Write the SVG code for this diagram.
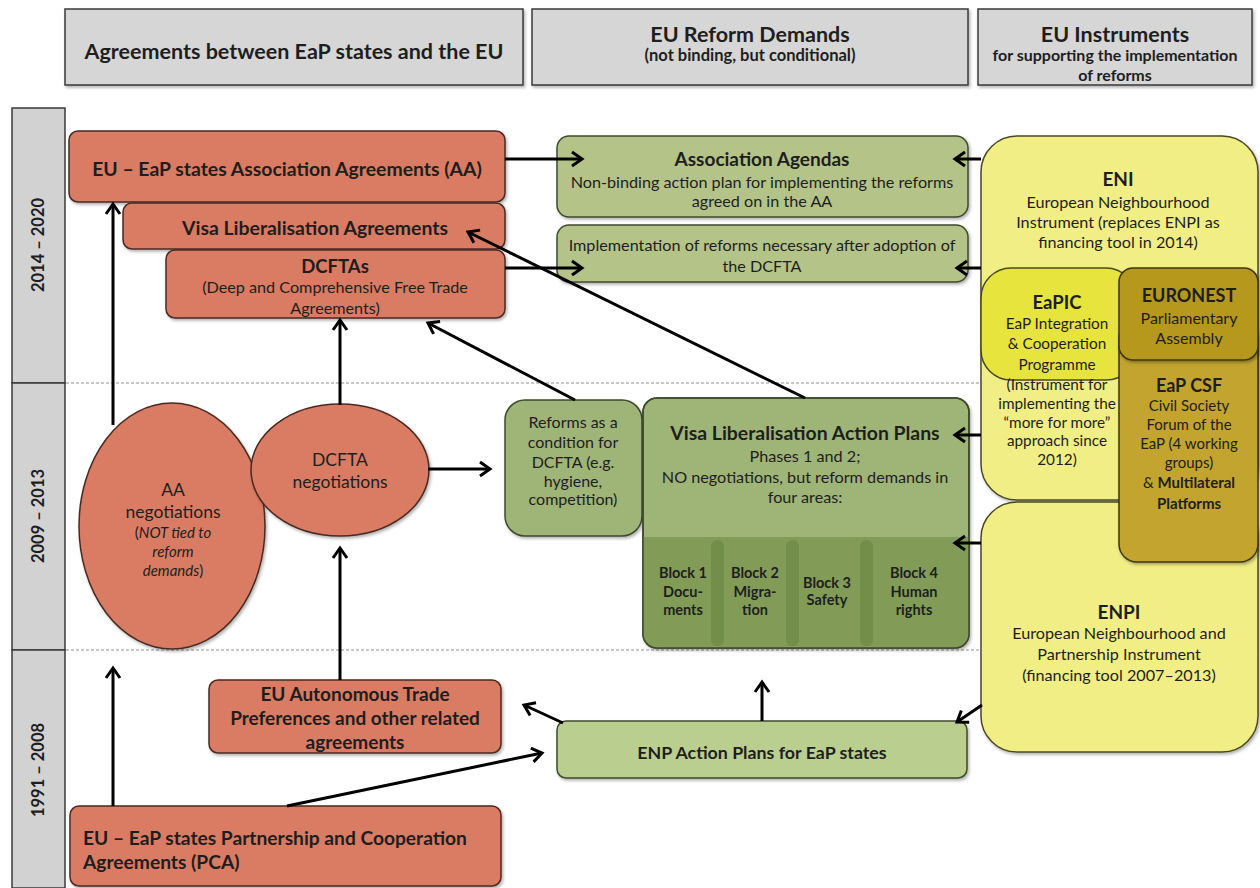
<svg xmlns="http://www.w3.org/2000/svg" width="1260" height="888" viewBox="0 0 1260 888">
<style>
text{font-family:Lato,"Open Sans","Liberation Sans",sans-serif;fill:#1e1e1e;text-anchor:middle}
.b{font-weight:bold}
.l{text-anchor:start}
.hdr{fill:#d6d6d6;stroke:#3a3a3a;stroke-width:1.5}
.yr{fill:#d2d2d2;stroke:#3a3a3a;stroke-width:1.5}
.red{fill:#d97b64;stroke:#4a2a22;stroke-width:1.5}
.grn{fill:#b4c489;stroke:#3e4a2c;stroke-width:1.5}
.grn2{fill:#9fb477;stroke:#3e4a2c;stroke-width:1.5}
.ylw{fill:#f1ee86;stroke:#4a4a22;stroke-width:1.5}
.ylw2{fill:#e7e43e;stroke:#4a4a22;stroke-width:1.5}
.ol1{fill:#b5981f;stroke:#3f3510;stroke-width:1.5}
.ol2{fill:#c2a42e;stroke:#3f3510;stroke-width:1.5}
.dash{stroke:#c8c8c8;stroke-width:2;stroke-dasharray:3 2}
.con{stroke:#000;stroke-width:3;fill:none;marker-end:url(#ah)}
</style>
<defs>
<filter id="sh" x="-10%" y="-10%" width="125%" height="130%"><feDropShadow dx="1.5" dy="2" stdDeviation="1.5" flood-opacity="0.3"/></filter>
<marker id="ah" markerUnits="userSpaceOnUse" markerWidth="18" markerHeight="18" refX="13" refY="9" orient="auto"><path d="M3,2 L13,9 L3,16" fill="none" stroke="#000" stroke-width="3"/></marker>
</defs>
<rect width="1260" height="888" fill="#fff"/>

<g id="headers">
<rect class="hdr" x="65" y="9" width="458" height="76" filter="url(#sh)"/>
<text class="b" x="294" y="59" font-size="21.5">Agreements between EaP states and the EU</text>
<rect class="hdr" x="532" y="9" width="436" height="76" filter="url(#sh)"/>
<text class="b" x="750" y="42" font-size="21.5">EU Reform Demands</text>
<text class="b" x="750" y="61" font-size="16.5">(not binding, but conditional)</text>
<rect class="hdr" x="978" y="9" width="274" height="76" filter="url(#sh)"/>
<text class="b" x="1115" y="42" font-size="21.5">EU Instruments</text>
<text class="b" x="1115" y="61" font-size="16">for supporting the implementation</text>
<text class="b" x="1115" y="81" font-size="16">of reforms</text>
</g>

<g id="years">
<rect class="yr" x="12" y="108" width="53" height="275"/>
<rect class="yr" x="12" y="383" width="53" height="267"/>
<rect class="yr" x="12" y="650" width="53" height="238"/>
<text class="b" font-size="16.5" transform="translate(44,245) rotate(-90)">2014 – 2020</text>
<text class="b" font-size="16.5" transform="translate(44,516) rotate(-90)">2009 – 2013</text>
<text class="b" font-size="16.5" transform="translate(44,770) rotate(-90)">1991 – 2008</text>
</g>

<g id="dividers">
<line class="dash" x1="66" y1="383" x2="1260" y2="383"/>
<line class="dash" x1="66" y1="650" x2="1260" y2="650"/>
</g>

<g id="aa">
<rect class="red" x="69" y="131" width="436" height="71" rx="9" filter="url(#sh)"/>
<text class="b" x="287" y="176" font-size="19.4">EU – EaP states Association Agreements (AA)</text>
</g>
<g id="visa-agreements">
<rect class="red" x="123" y="203" width="382" height="46" rx="9" filter="url(#sh)"/>
<text class="b" x="315" y="235" font-size="19.4">Visa Liberalisation Agreements</text>
</g>
<g id="dcftas">
<rect class="red" x="166" y="250" width="339" height="68" rx="9" filter="url(#sh)"/>
<text class="b" x="335" y="273" font-size="18.5">DCFTAs</text>
<text x="335" y="293" font-size="16.2">(Deep and Comprehensive Free Trade</text>
<text x="335" y="314" font-size="16.2">Agreements)</text>
</g>

<g id="assoc-agendas">
<rect class="grn" x="557" y="136" width="411" height="81" rx="12" filter="url(#sh)"/>
<text class="b" x="762" y="166" font-size="19">Association Agendas</text>
<text x="762" y="188" font-size="16.2">Non-binding action plan for implementing the reforms</text>
<text x="762" y="207" font-size="16.2">agreed on in the AA</text>
</g>
<g id="implementation">
<rect class="grn" x="557" y="225" width="411" height="57" rx="12" filter="url(#sh)"/>
<text x="762" y="251" font-size="16.2">Implementation of reforms necessary after adoption of</text>
<text x="762" y="272" font-size="16.2">the DCFTA</text>
</g>

<g id="eni">
<rect class="ylw" x="981" y="136" width="277" height="364" rx="36" filter="url(#sh)"/>
<text class="b" x="1118" y="186" font-size="19">ENI</text>
<text x="1118" y="208" font-size="16.2">European Neighbourhood</text>
<text x="1118" y="228" font-size="16.2">Instrument (replaces ENPI as</text>
<text x="1118" y="248" font-size="16.2">financing tool in 2014)</text>
</g>
<g id="enpi">
<rect class="ylw" x="981" y="502" width="277" height="250" rx="36" filter="url(#sh)"/>
<text class="b" x="1119" y="619" font-size="19">ENPI</text>
<text x="1119" y="639" font-size="16.2">European Neighbourhood and</text>
<text x="1119" y="660" font-size="16.2">Partnership Instrument</text>
<text x="1119" y="681" font-size="16.2">(financing tool 2007–2013)</text>
</g>
<g id="eapic">
<rect class="ylw2" x="981" y="268" width="155" height="112" rx="30"/>
<text class="b" x="1057" y="309" font-size="18.5">EaPIC</text>
<text x="1057" y="329" font-size="15.3">EaP Integration</text>
<text x="1057" y="349" font-size="15.3">&amp; Cooperation</text>
<text x="1057" y="370" font-size="15.3">Programme</text>
<text x="1057" y="390" font-size="15.3">(Instrument for</text>
<text x="1057" y="409" font-size="15.3">implementing the</text>
<text x="1057" y="428" font-size="15.3">“more for more”</text>
<text x="1057" y="446" font-size="15.3">approach since</text>
<text x="1057" y="465" font-size="15.3">2012)</text>
</g>
<g id="eap-csf">
<rect class="ol2" x="1119" y="320" width="139" height="242" rx="18" filter="url(#sh)"/>
<text class="b" x="1189" y="392" font-size="18">EaP CSF</text>
<text x="1189" y="411" font-size="15">Civil Society</text>
<text x="1189" y="430" font-size="15">Forum of the</text>
<text x="1189" y="449" font-size="15">EaP (4 working</text>
<text x="1189" y="468" font-size="15">groups)</text>
<text x="1189" y="488" font-size="15">&amp; <tspan class="b">Multilateral</tspan></text>
<text class="b" x="1189" y="509" font-size="15">Platforms</text>
</g>
<g id="euronest">
<rect class="ol1" x="1119" y="268" width="139" height="92" rx="14" filter="url(#sh)"/>
<text class="b" x="1189" y="302" font-size="18">EURONEST</text>
<text x="1189" y="324" font-size="16">Parliamentary</text>
<text x="1189" y="344" font-size="16">Assembly</text>
</g>

<g id="aa-negotiations">
<ellipse class="red" cx="172" cy="526" rx="93" ry="123" filter="url(#sh)"/>
<text x="173" y="496" font-size="17.5">AA</text>
<text x="173" y="518" font-size="17.5">negotiations</text>
<text x="173" y="538" font-size="15">(<tspan font-style="italic">NOT tied to</tspan></text>
<text x="173" y="557" font-size="15" font-style="italic">reform</text>
<text x="173" y="576" font-size="15"><tspan font-style="italic">demands</tspan>)</text>
</g>
<g id="dcfta-negotiations">
<ellipse class="red" cx="340" cy="470" rx="89" ry="66" filter="url(#sh)"/>
<text x="340" y="466" font-size="17.5">DCFTA</text>
<text x="340" y="488" font-size="17.5">negotiations</text>
</g>

<g id="reforms-dcfta">
<rect class="grn2" x="505" y="400" width="137" height="136" rx="20" filter="url(#sh)"/>
<text x="573" y="428" font-size="16">Reforms as a</text>
<text x="573" y="448" font-size="16">condition for</text>
<text x="573" y="468" font-size="16">DCFTA (e.g.</text>
<text x="573" y="487" font-size="16">hygiene,</text>
<text x="573" y="505" font-size="16">competition)</text>
</g>
<g id="vlap">
<rect class="grn2" x="643" y="398" width="326" height="250" rx="14" filter="url(#sh)"/>
<path d="M643,537 H969 V634 Q969,648 955,648 H657 Q643,648 643,634 Z" fill="#829c58"/>
<rect x="711" y="540" width="13" height="106" rx="6" fill="#738d4a"/>
<rect x="786" y="540" width="13" height="106" rx="6" fill="#738d4a"/>
<rect x="860" y="540" width="13" height="106" rx="6" fill="#738d4a"/>
<rect x="643" y="398" width="326" height="250" rx="14" fill="none" stroke="#3e4a2c" stroke-width="1.5"/>
<text class="b" x="805" y="440" font-size="19.4">Visa Liberalisation Action Plans</text>
<text x="805" y="462" font-size="16.2">Phases 1 and 2;</text>
<text x="805" y="483" font-size="16.2">NO negotiations, but reform demands in</text>
<text x="805" y="503" font-size="16.2">four areas:</text>
<text class="b" x="683" y="578" font-size="14.5">Block  1</text>
<text class="b" x="683" y="597" font-size="14.5">Docu-</text>
<text class="b" x="683" y="615" font-size="14.5">ments</text>
<text class="b" x="755" y="578" font-size="14.5">Block  2</text>
<text class="b" x="755" y="597" font-size="14.5">Migra-</text>
<text class="b" x="755" y="615" font-size="14.5">tion</text>
<text class="b" x="827" y="588" font-size="14.5">Block  3</text>
<text class="b" x="827" y="605" font-size="14.5">Safety</text>
<text class="b" x="914" y="578" font-size="14.5">Block  4</text>
<text class="b" x="914" y="597" font-size="14.5">Human</text>
<text class="b" x="914" y="615" font-size="14.5">rights</text>
</g>

<g id="autonomous-trade">
<rect class="red" x="209" y="680" width="292" height="73" rx="9" filter="url(#sh)"/>
<text class="b" x="355" y="701" font-size="19">EU Autonomous Trade</text>
<text class="b" x="355" y="725" font-size="19">Preferences and other related</text>
<text class="b" x="355" y="749" font-size="19">agreements</text>
</g>
<g id="enp-action-plans">
<rect x="557" y="721" width="410" height="57" rx="9" fill="#bacf8f" stroke="#3e4a2c" stroke-width="1.5" filter="url(#sh)"/>
<text class="b" x="762" y="759" font-size="17.8">ENP Action Plans for EaP states</text>
</g>
<g id="pca">
<rect class="red" x="70" y="806" width="431" height="80" rx="9" filter="url(#sh)"/>
<text class="b l" x="83" y="845" font-size="19.2">EU – EaP states Partnership and Cooperation</text>
<text class="b l" x="83" y="869" font-size="19.2">Agreements (PCA)</text>
</g>

<g id="connectors">
<line class="con" x1="505" y1="159" x2="582" y2="159"/>
<line class="con" x1="505" y1="268" x2="582" y2="268"/>
<line class="con" x1="981" y1="159" x2="955" y2="159"/>
<line class="con" x1="981" y1="268" x2="957" y2="268"/>
<line class="con" x1="981" y1="435" x2="955" y2="435"/>
<line class="con" x1="981" y1="543" x2="955" y2="543"/>
<line class="con" x1="982" y1="705" x2="957" y2="722"/>
<line class="con" x1="113" y1="425" x2="113" y2="204"/>
<line class="con" x1="340" y1="405" x2="340" y2="320"/>
<line class="con" x1="575" y1="400" x2="428" y2="323"/>
<line class="con" x1="805" y1="398" x2="468" y2="232"/>
<line class="con" x1="428" y1="469" x2="490" y2="469"/>
<line class="con" x1="113" y1="806" x2="113" y2="668"/>
<line class="con" x1="287" y1="806" x2="542" y2="753"/>
<line class="con" x1="563" y1="723" x2="524" y2="705"/>
<line class="con" x1="762" y1="721" x2="762" y2="682"/>
<line class="con" x1="340" y1="680" x2="340" y2="548"/>
</g>
</svg>
